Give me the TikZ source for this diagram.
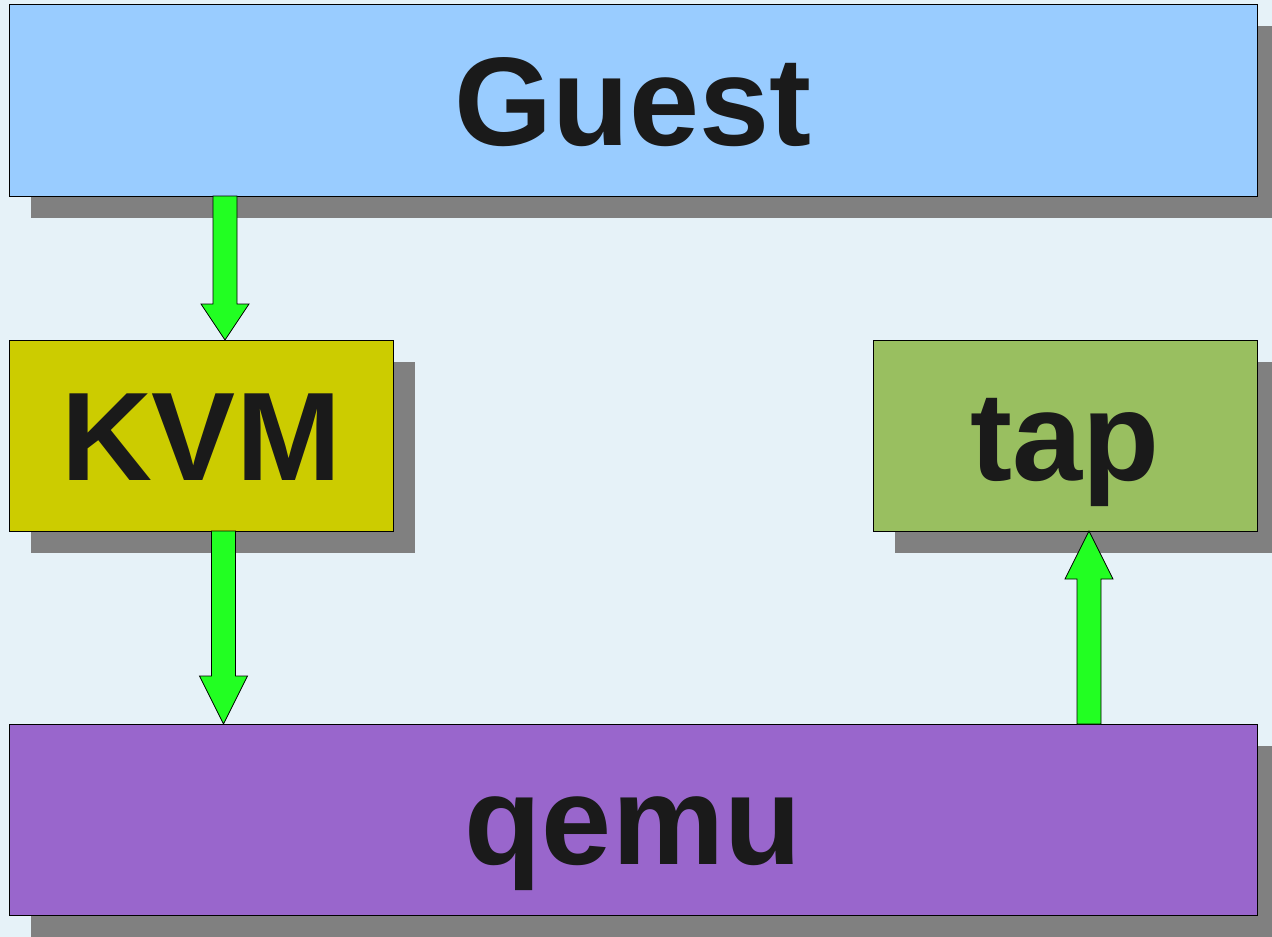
\documentclass[tikz,border=0pt]{standalone}
\usepackage{fontspec}
\setmainfont{Liberation Sans}
\usetikzlibrary{shadows,calc}
\definecolor{bgc}{HTML}{E6F2F8}
\definecolor{guestc}{HTML}{99CCFF}
\definecolor{kvmc}{HTML}{CCCC00}
\definecolor{tapc}{HTML}{99BF60}
\definecolor{qemuc}{HTML}{9966CC}
\definecolor{shadowc}{HTML}{808080}
\definecolor{arrowc}{HTML}{22FF22}
\definecolor{textc}{HTML}{1A1A1A}
\tikzset{
  box/.style={draw=black, line width=1pt, inner sep=0pt, outer sep=0pt,
    text=textc, font=\fontsize{126}{150}\selectfont\bfseries,
    text height=90pt, text depth=0pt,
    general shadow={fill=shadowc, shadow xshift=22pt, shadow yshift=-22pt}},
  fatarrow/.style={draw=black, line width=0.8pt, fill=arrowc, line join=miter}
}
\newcommand\fatarrow[3]{%
  \draw[fatarrow] let \p1=(#1), \p2=(#2), \n1={sign(\y1-\y2)} in
    ({\x1-12pt},{\y1}) -- ({\x1+12pt},{\y1}) -- ({\x1+12pt},{\y2+\n1*#3}) --
    ({\x1+24pt},{\y2+\n1*#3}) -- ({\x2},{\y2}) -- ({\x1-24pt},{\y2+\n1*#3}) --
    ({\x1-12pt},{\y2+\n1*#3}) -- cycle;}
\begin{document}
\begin{tikzpicture}[x=1pt,y=-1pt]
\useasboundingbox (0,0) rectangle (1272,937);
\clip (0,0) rectangle (1272,937);
\fill[bgc] (0,0) rectangle (1272,937);
\node[box, fill=guestc, minimum width=1248pt, minimum height=192pt] (guest) at (633,100) {Guest};
\node[box, fill=kvmc, minimum width=384pt, minimum height=191pt] (kvm) at (201,435.5) {KVM};
\node[box, fill=tapc, minimum width=384pt, minimum height=191pt] (tap) at (1065,435.5) {tap};
\node[box, fill=qemuc, minimum width=1248pt, minimum height=191pt] (qemu) at (633,819.5) {qemu};
\coordinate (a1s) at (225,0 |- guest.south);
\coordinate (a1e) at (225,0 |- kvm.north);
\coordinate (a2s) at (223.5,0 |- kvm.south);
\coordinate (a2e) at (223.5,0 |- qemu.north);
\coordinate (a3s) at (1089,0 |- qemu.north);
\coordinate (a3e) at (1089,0 |- tap.south);
\fatarrow{a1s}{a1e}{36pt}
\fatarrow{a2s}{a2e}{48pt}
\fatarrow{a3s}{a3e}{48pt}
\end{tikzpicture}
\end{document}
